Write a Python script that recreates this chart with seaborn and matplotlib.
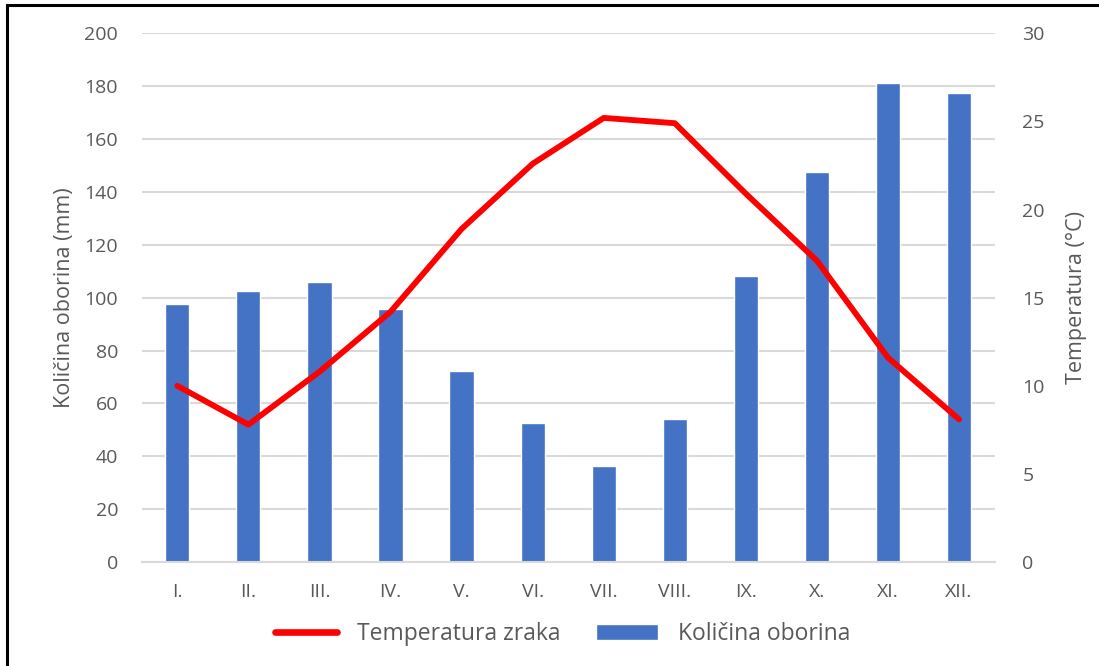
import numpy as np
import pandas as pd
import matplotlib
matplotlib.use("Agg")
import matplotlib.pyplot as plt
from matplotlib.lines import Line2D
from matplotlib.patches import Patch, Rectangle
import seaborn as sns

months = ["I.", "II.", "III.", "IV.", "V.", "VI.", "VII.", "VIII.", "IX.", "X.", "XI.", "XII."]
oborina = [97.8, 102.7, 106.1, 95.6, 72.1, 52.7, 36.3, 54.1, 108.3, 147.6, 181.3, 177.3]
temperatura = [10.0, 7.8, 10.8, 14.2, 18.9, 22.6, 25.2, 24.9, 20.9, 17.1, 11.6, 8.1]

df = pd.DataFrame({"mjesec": months, "oborina": oborina, "temp": temperatura})

sns.set_style("white")
plt.rcParams["font.family"] = ["Open Sans", "DejaVu Sans"]
text_col = "#595959"
grid_col = "#D9D9D9"
bar_col = "#4472C4"

fig = plt.figure(figsize=(10.99, 6.66), dpi=100)
ax = fig.add_axes([0.129, 0.156, 0.776, 0.794])

sns.barplot(data=df, x="mjesec", y="oborina", color=bar_col, width=0.34,
            saturation=1, ax=ax, zorder=2)
ax.set_ylim(0, 200)
ax.set_yticks(np.arange(0, 201, 20))
ax.yaxis.grid(True, color=grid_col, lw=1.5, zorder=0)
ax.set_axisbelow(True)
ax.set_xlim(-0.5, 11.5)
ax.set_xlabel("")
ax.set_ylabel("Količina oborina (mm)", fontsize=15.5, color=text_col, labelpad=7)
ax.tick_params(length=0, labelsize=14, colors=text_col)
ax.tick_params(axis="x", pad=15)
ax.tick_params(axis="y", pad=17)
for s in ["top", "left", "right"]:
    ax.spines[s].set_visible(False)
ax.spines["bottom"].set_color(grid_col)
ax.spines["bottom"].set_linewidth(1.5)

ax2 = ax.twinx()
sns.lineplot(data=df, x="mjesec", y="temp", color="#FF0000", lw=4.2, sort=False, ax=ax2)
ax2.set_ylim(0, 30)
ax2.set_yticks(np.arange(0, 31, 5))
ax2.set_xlim(-0.5, 11.5)
ax2.set_ylabel("Temperatura (°C)", fontsize=15.5, color=text_col, labelpad=15)
ax2.tick_params(length=0, labelsize=14, colors=text_col, pad=20)
for s in ax2.spines.values():
    s.set_visible(False)

handles = [Line2D([0], [0], color="#FF0000", lw=4.8),
           Patch(facecolor=bar_col)]
fig.legend(handles, ["Temperatura zraka", "Količina oborina"], loc="center",
           bbox_to_anchor=(0.512, 0.048), ncol=2, frameon=False, fontsize=16.5,
           labelcolor=text_col, handlelength=2.7, columnspacing=1.55,
           handletextpad=0.87, handleheight=0.75)

fig.patches.append(Rectangle((0.006, -0.02), 1.2, 1.0125, transform=fig.transFigure,
                             fill=False, edgecolor="black", lw=2.2))

fig.savefig("out.png", dpi=100)
